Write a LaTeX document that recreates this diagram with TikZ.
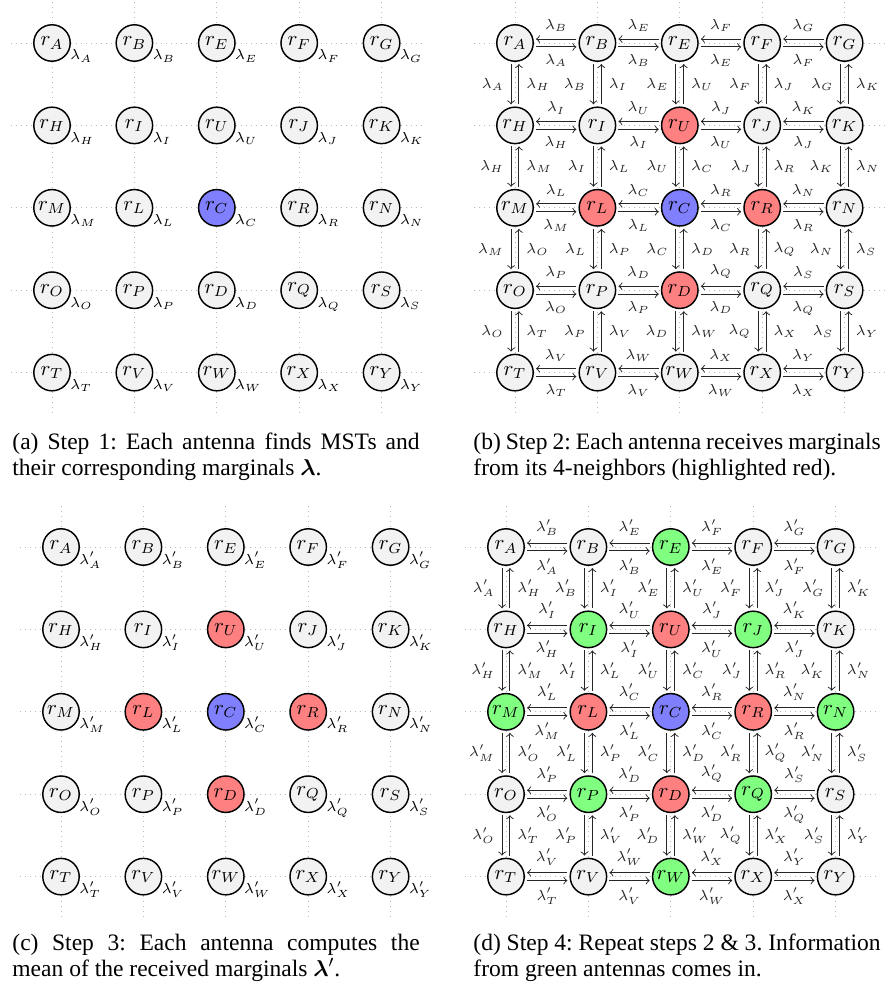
\documentclass[tikz,border=0pt]{standalone}
\usepackage{fontspec}
\setmainfont{Liberation Serif}
\usepackage{bm}
\usetikzlibrary{calc}
\frenchspacing

\tikzset{
  ant/.style={circle, draw, line width=0.7pt, minimum size=17.5pt, inner sep=0pt},
  tag/.style={font=\scriptsize},
  msg/.style={->, line width=0.45pt, black!85, shorten >=1pt, shorten <=1pt},
  gridln/.style={dotted, gray!55, line width=0.4pt},
  subcap/.style={text width=195.5pt, align=justify, inner sep=0pt, anchor=base west,
                 font=\fontsize{11.3}{12.5}\selectfont},
}
\def\names{{"A","B","E","F","G","H","I","U","J","K","M","L","C","R","N",
  "O","P","D","Q","S","T","V","W","X","Y"}}

\begin{document}
\begin{tikzpicture}[x=0.48pt, y=-0.48pt]
  \useasboundingbox (0,0) rectangle (894,990);
  % panel / first column / first row / prime / how far the colours reach
  \foreach \p/\px/\py/\pr/\reach in {a/52/43/{}/0, b/515/43/{}/1, c/61/547/'/1, d/506/547/'/2} {
    \foreach \j in {0,...,4} {
      \draw[gridln] (\px-41, \py+82.4*\j) -- (\px+370.6, \py+82.4*\j);
      \draw[gridln] (\px+82.4*\j, \py-41) -- (\px+82.4*\j, \py+370.6);
    }
    \foreach \j in {0,...,4} \foreach \i in {0,...,4} {
      \pgfmathtruncatemacro\k{5*\j+\i}
      \pgfmathsetmacro\na{\names[\k]}
      \pgfmathtruncatemacro\dist{abs(\i-2)+abs(\j-2)}
      \def\shade{gray!10}
      \ifnum\dist>\reach\else
        \ifcase\dist \def\shade{blue!50}\or \def\shade{red!50}\or \def\shade{green!50}\fi
      \fi
      \node[ant, fill=\shade] (\p-\na) at (\px+82.4*\i, \py+82.4*\j) {$r_\na$};
    }
  }

  \foreach \p/\pr in {a/{}, c/'} \foreach \k in {0,...,24} {
    \pgfmathsetmacro\na{\names[\k]}
    \node[tag, anchor=base west, inner sep=0pt] (\p-\na-tag)
      at ($(\p-\na.center)+(18,17)$) {$\lambda\pr_\na$};
  }

  \foreach \p/\pr in {b/{}, d/'} {
    \foreach \j in {0,...,4} \foreach \i in {0,...,3} {
      \pgfmathtruncatemacro\k{5*\j+\i}
      \pgfmathsetmacro\na{\names[\k]}
      \pgfmathsetmacro\nb{\names[\k+1]}
      \draw[msg, transform canvas={yshift=1.9pt}] (\p-\nb)
        -- node[tag, above] (\p-\na\nb-up) {$\lambda\pr_\nb$} (\p-\na);
      \draw[msg, transform canvas={yshift=-1.9pt}] (\p-\na)
        -- node[tag, below] (\p-\na\nb-dn) {$\lambda\pr_\na$} (\p-\nb);
    }
    \foreach \j in {0,...,3} \foreach \i in {0,...,4} {
      \pgfmathtruncatemacro\k{5*\j+\i}
      \pgfmathsetmacro\na{\names[\k]}
      \pgfmathsetmacro\nb{\names[\k+5]}
      \draw[msg, transform canvas={xshift=-1.9pt}] (\p-\na)
        -- node[tag, left] (\p-\na\nb-lt) {$\lambda\pr_\na$} (\p-\nb);
      \draw[msg, transform canvas={xshift=1.9pt}] (\p-\nb)
        -- node[tag, right] (\p-\na\nb-rt) {$\lambda\pr_\nb$} (\p-\na);
    }
  }

  \node[subcap] (cap-a) at (12,449) {(a) Step 1: Each antenna finds MSTs and\linebreak
    their corresponding marginals $\bm{\lambda}$.};
  \node[subcap] (cap-b) at (473,449) {(b) Step 2: Each antenna receives marginals\linebreak
    from its 4-neighbors (highlighted red).};
  \node[subcap] (cap-c) at (12,950) {(c) Step 3: Each antenna computes the\linebreak
    mean of the received marginals $\bm{\lambda}'$.};
  \node[subcap] (cap-d) at (473,950) {(d) Step 4: Repeat steps 2 \& 3. Information\linebreak
    from green antennas comes in.};
\end{tikzpicture}
\end{document}
